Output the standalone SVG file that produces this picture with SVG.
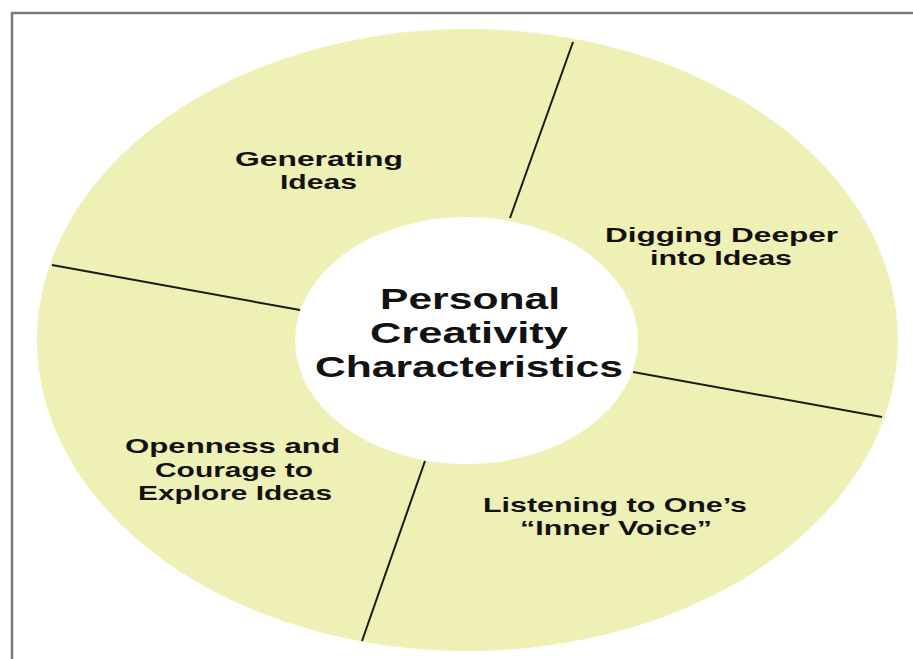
<svg xmlns="http://www.w3.org/2000/svg" width="913" height="659" viewBox="0 0 913 659">
<style>
.frame{stroke:#7a7a7a;stroke-width:2.5;fill:none}
.div{stroke:#1a1a1a;stroke-width:2;fill:none}
.lbl{font-family:"Liberation Sans",Arial,sans-serif;font-weight:bold;font-size:20.5px;fill:#121212;text-anchor:middle}
.ctr{font-family:"Liberation Sans",Arial,sans-serif;font-weight:bold;font-size:30px;fill:#121212;text-anchor:middle}
</style>
<rect width="913" height="659" fill="#ffffff"/>
<path class="frame" d="M12,659 V13 H913"/>
<g id="ring">
<ellipse cx="467.5" cy="340" rx="430.5" ry="311" fill="#eef0b5"/>
</g>
<g id="connectors">
<line class="div" x1="52" y1="265" x2="300" y2="310"/>
<line class="div" x1="573" y1="42" x2="510" y2="218"/>
<line class="div" x1="633" y1="372" x2="882" y2="417"/>
<line class="div" x1="425" y1="461" x2="362" y2="641"/>
</g>
<g id="center">
<ellipse cx="466.5" cy="340.5" rx="171.5" ry="123.5" fill="#ffffff"/>
<text class="ctr" x="470" y="309" textLength="180" lengthAdjust="spacingAndGlyphs">Personal</text>
<text class="ctr" x="469" y="343" textLength="198" lengthAdjust="spacingAndGlyphs">Creativity</text>
<text class="ctr" x="469" y="377" textLength="308" lengthAdjust="spacingAndGlyphs">Characteristics</text>
</g>
<g id="generating">
<text class="lbl" x="319" y="166" textLength="168" lengthAdjust="spacingAndGlyphs">Generating</text>
<text class="lbl" x="318.5" y="189" textLength="77" lengthAdjust="spacingAndGlyphs">Ideas</text>
</g>
<g id="digging">
<text class="lbl" x="721.5" y="242" textLength="233" lengthAdjust="spacingAndGlyphs">Digging Deeper</text>
<text class="lbl" x="721" y="265" textLength="142" lengthAdjust="spacingAndGlyphs">into Ideas</text>
</g>
<g id="openness">
<text class="lbl" x="232.5" y="453" textLength="215" lengthAdjust="spacingAndGlyphs">Openness and</text>
<text class="lbl" x="234" y="476.5" textLength="158" lengthAdjust="spacingAndGlyphs">Courage to</text>
<text class="lbl" x="235" y="500" textLength="194" lengthAdjust="spacingAndGlyphs">Explore Ideas</text>
</g>
<g id="listening">
<text class="lbl" x="615" y="512" textLength="264" lengthAdjust="spacingAndGlyphs">Listening to One’s</text>
<text class="lbl" x="616" y="535" textLength="192" lengthAdjust="spacingAndGlyphs">“Inner Voice”</text>
</g>
</svg>
